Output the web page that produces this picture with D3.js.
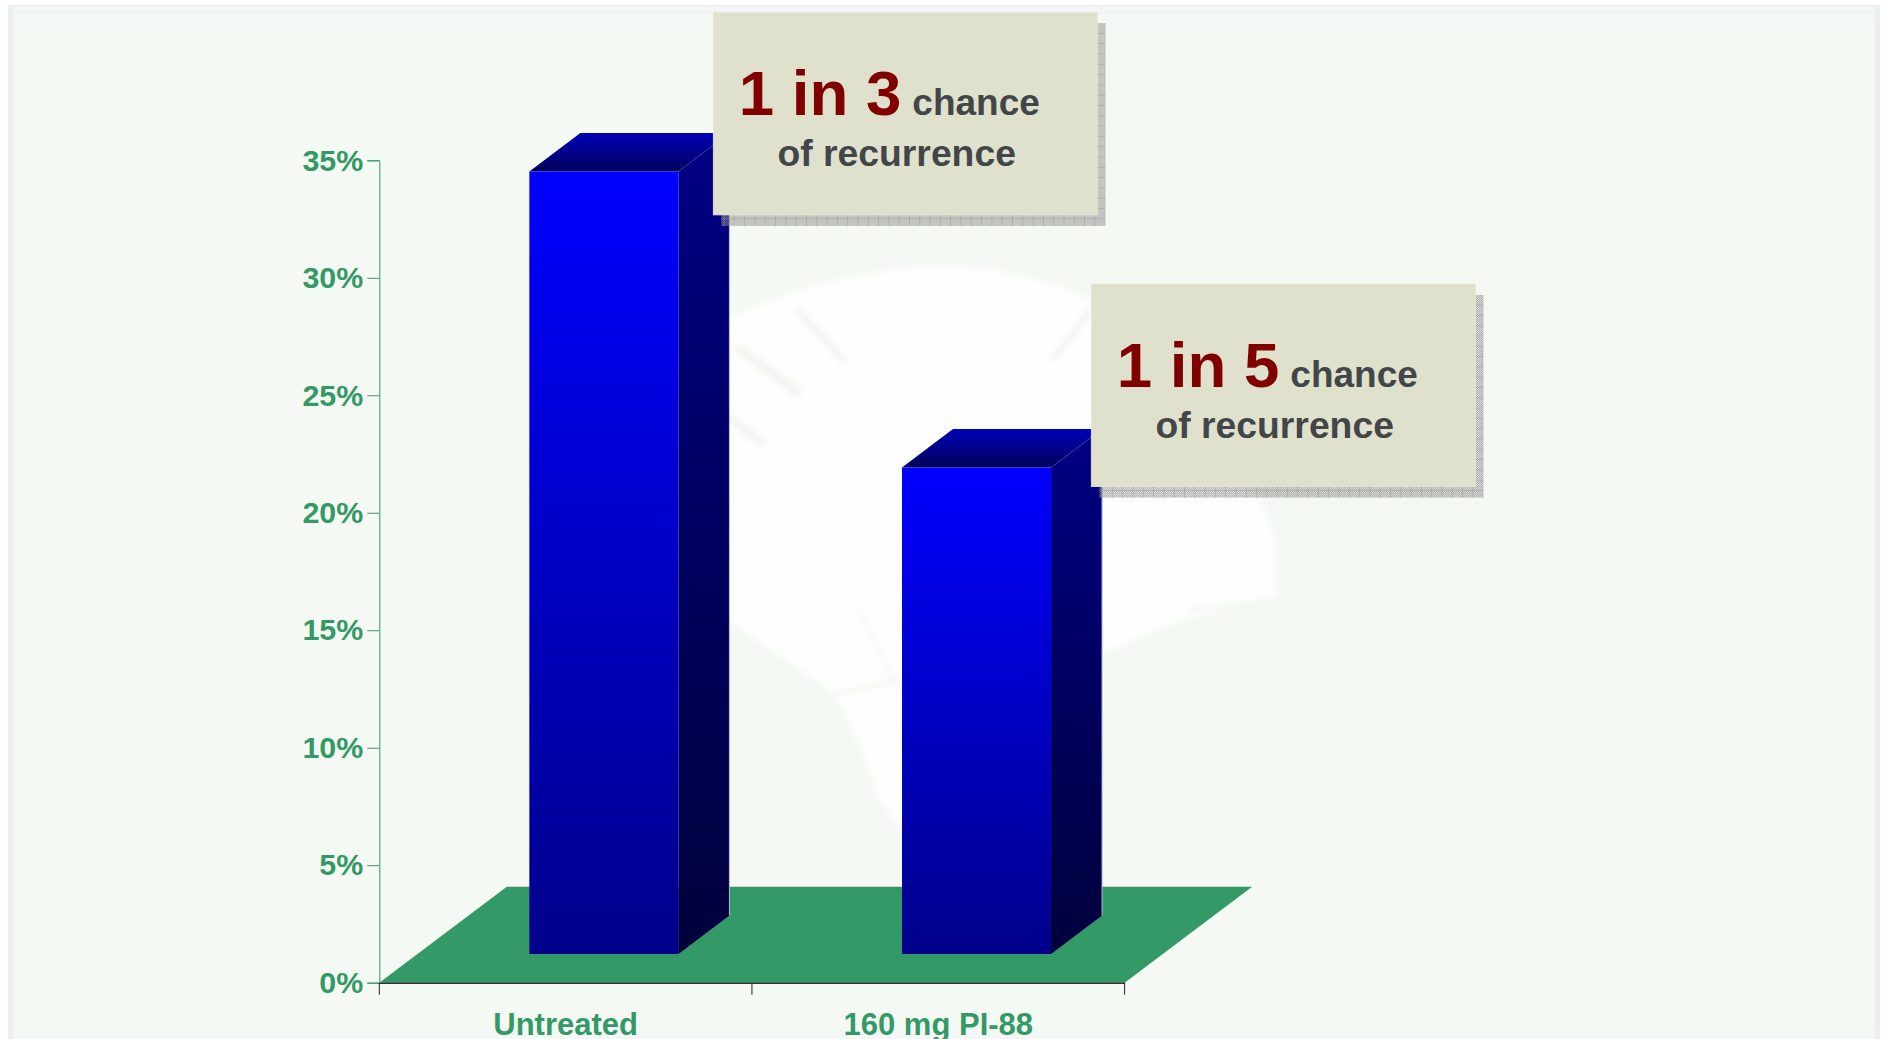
<!DOCTYPE html>
<html>
<head>
<meta charset="utf-8">
<script src="https://cdn.jsdelivr.net/npm/d3@7"></script>
<style>
  html, body { margin: 0; padding: 0; background: #fff; overflow: hidden; }
  svg { display: block; }
  text { font-family: "Liberation Sans", Arial, sans-serif; font-weight: bold; }
</style>
</head>
<body>
<script>
//data
var categories = ["Untreated", "160 mg PI-88"];
var recurrence = [33.3, 20.7];
var yTicks = [0, 5, 10, 15, 20, 25, 30, 35];
var calloutHeads = ["1 in 3", "1 in 5"];
var calloutTail = "chance";
var calloutLine2 = "of recurrence";

//layout
var width = 1885;
var height = 1039;
var axisLeft = 379.3;
var axisRight = 1124.6;
var axisTop = 160.3;
var axisBottom = 982.7;
var floorDepth = [127.5, -96];
var barFront = 0.3;   // share of the floor depth in front of a bar
var barBack = 0.7;
var calloutPos = [[713.3, 12.3], [1091.3, 284]];
var calloutSize = [384, 202.6];
var shadowOffset = [8, 11];
var green = "#339966";

var svg = d3.select("body").append("svg")
    .attr("width", width)
    .attr("height", height);
var defs = svg.append("defs");

function gradient(id, top, bottom) {
    var g = defs.append("linearGradient").attr("id", id)
        .attr("x1", 0).attr("y1", 0).attr("x2", 0).attr("y2", 1);
    g.append("stop").attr("offset", 0).attr("stop-color", top);
    g.append("stop").attr("offset", 1).attr("stop-color", bottom);
}
gradient("frontFace", "#0000ff", "#00008a");
gradient("sideFace", "#000084", "#00003c");
gradient("topFace", "#0000b8", "#000058");

//soft edge for the background clock
defs.append("filter").attr("id", "soft")
    .append("feGaussianBlur").attr("stdDeviation", 2.5);

//callout shadow: fine dots with a grid on top
var dots = defs.append("pattern").attr("id", "shadowDots")
    .attr("width", 2).attr("height", 2).attr("patternUnits", "userSpaceOnUse");
dots.append("rect").attr("width", 1).attr("height", 1).attr("fill", "#929292");
dots.append("rect").attr("x", 1).attr("y", 1).attr("width", 1).attr("height", 1).attr("fill", "#929292");
var grid = defs.append("pattern").attr("id", "shadowGrid")
    .attr("width", 10.3).attr("height", 10.3).attr("patternUnits", "userSpaceOnUse");
grid.append("path").attr("d", "M0 0H10.3M0 0V10.3")
    .attr("fill", "none").attr("stroke", "#999999").attr("stroke-width", 1);

//slide background and frame
svg.append("rect").attr("width", width).attr("height", height).attr("fill", "#ffffff");
svg.append("rect").attr("x", 8).attr("y", 5).attr("width", 1872).attr("height", 1034).attr("fill", "#ebf0ed");
svg.append("rect").attr("x", 13).attr("y", 7).attr("width", 1862).attr("height", 1032).attr("fill", "#f3f7f5");
svg.append("rect").attr("x", 13).attr("y", 12).attr("width", 1862).attr("height", 1).attr("fill", "#edf2ee");
svg.append("rect").attr("x", 15).attr("y", 18).attr("width", 1860).attr("height", 1011).attr("fill", "#f5f9f3");

//faint clock behind the chart
var clock = svg.append("g").attr("filter", "url(#soft)");
clock.append("path")
    .attr("d", "M700 335 Q800 275 934 266 Q1040 268 1110 310 L1261 501 L1276 543 L1276 600 Q1190 610 1108 652 L1000 700 L900 830 L880 800 Q860 740 835 694 L730 621 L700 600 Z")
    .attr("fill", "#fdfefd");
var clockMarks = [[737, 347, 800, 394, 9], [798, 311, 845, 362, 7], [730, 418, 765, 445, 9], [1053, 360, 1091, 310, 6], [860, 610, 898, 690, 2], [835, 694, 900, 680, 3], [1190, 610, 1276, 600, 3]];
clock.selectAll("line.mark").data(clockMarks).enter().append("line")
    .attr("class", "mark")
    .attr("x1", function(d) { return d[0]; }).attr("y1", function(d) { return d[1]; })
    .attr("x2", function(d) { return d[2]; }).attr("y2", function(d) { return d[3]; })
    .attr("stroke", "#f3f5f1")
    .attr("stroke-width", function(d) { return d[4]; });

//scales
var x = d3.scaleBand().domain(categories).range([axisLeft, axisRight]).padding(0.6);
x.paddingOuter(0.3);
var y = d3.scaleLinear().domain([0, 35]).range([axisBottom, axisTop]);

//floor
var floorPoints = [
    [axisLeft, y(0)],
    [axisRight, y(0)],
    [axisRight + floorDepth[0], y(0) + floorDepth[1]],
    [axisLeft + floorDepth[0], y(0) + floorDepth[1]]
];
svg.append("polygon").attr("points", floorPoints.join(" ")).attr("fill", green);

//y axis
var yAxis = svg.append("g")
    .attr("transform", "translate(" + axisLeft + ",0)")
    .call(d3.axisLeft(y).tickValues(yTicks).tickSize(12).tickPadding(4)
        .tickFormat(function(d) { return d + "%"; }));
yAxis.selectAll("path, line").attr("stroke", green);
yAxis.selectAll("text").attr("fill", green).style("font-size", "30.4px");

//x axis
var xAxis = svg.append("g")
    .attr("transform", "translate(0," + y(0) + ")")
    .call(d3.axisBottom(x).tickSize(0).tickPadding(30));
xAxis.select("path").attr("stroke", "#333333").attr("stroke-width", 1.5);
xAxis.selectAll("text").attr("fill", green).style("font-size", "31px");
xAxis.selectAll("line.boundary").data(d3.range(categories.length + 1)).enter().append("line")
    .attr("class", "boundary")
    .attr("x1", function(d) { return axisLeft + d * x.step(); })
    .attr("x2", function(d) { return axisLeft + d * x.step(); })
    .attr("y1", 0).attr("y2", 12)
    .attr("stroke", "#222222");

//bars, three faces each
var bars = svg.selectAll("g.bar").data(categories).enter().append("g").attr("class", "bar");

function pt(px, py, share) {
    return [px + floorDepth[0] * share, py + floorDepth[1] * share];
}
function front(d, i) {
    var l = x(d), r = l + x.bandwidth();
    return [pt(l, y(recurrence[i]), barFront), pt(r, y(recurrence[i]), barFront), pt(r, y(0), barFront), pt(l, y(0), barFront)];
}
function side(d, i) {
    var r = x(d) + x.bandwidth();
    return [pt(r, y(recurrence[i]), barFront), pt(r, y(recurrence[i]), barBack), pt(r, y(0), barBack), pt(r, y(0), barFront)];
}
function top_(d, i) {
    var l = x(d), r = l + x.bandwidth();
    return [pt(l, y(recurrence[i]), barFront), pt(l, y(recurrence[i]), barBack), pt(r, y(recurrence[i]), barBack), pt(r, y(recurrence[i]), barFront)];
}
bars.append("polygon").attr("points", function(d, i) { return side(d, i).join(" "); }).attr("fill", "url(#sideFace)");
bars.append("polygon").attr("points", function(d, i) { return top_(d, i).join(" "); }).attr("fill", "url(#topFace)");
bars.append("polygon").attr("points", function(d, i) { return front(d, i).join(" "); }).attr("fill", "url(#frontFace)");
//thin light edges of the 3d box
bars.append("path")
    .attr("d", function(d, i) { var s = side(d, i); return "M" + s[0] + "L" + s[1]; })
    .attr("stroke", "#3a3ab8").attr("stroke-width", 0.5).attr("fill", "none");
bars.append("path")
    .attr("d", function(d, i) { var s = side(d, i); return "M" + s[1] + "L" + s[2]; })
    .attr("stroke", "#b8bcdc").attr("stroke-width", 1).attr("fill", "none");

//callouts
var callouts = svg.selectAll("g.callout").data(calloutHeads).enter().append("g")
    .attr("class", "callout")
    .attr("transform", function(d, i) { return "translate(" + calloutPos[i] + ")"; });
["shadowDots", "shadowGrid"].forEach(function(id) {
    callouts.append("rect")
        .attr("x", shadowOffset[0]).attr("y", shadowOffset[1])
        .attr("width", calloutSize[0]).attr("height", calloutSize[1])
        .attr("fill", "url(#" + id + ")");
});
callouts.append("rect")
    .attr("width", calloutSize[0]).attr("height", calloutSize[1])
    .attr("fill", "#e0e1cc").attr("stroke", "#e8e9d8").attr("stroke-width", 0.8);
callouts.append("text")
    .attr("x", 25.5).attr("y", 103)
    .attr("fill", "#800000").style("font-size", "63.6px")
    .text(function(d) { return d; });
callouts.append("text")
    .attr("x", 199).attr("y", 103)
    .attr("fill", "#434649").style("font-size", "37px")
    .text(calloutTail);
callouts.append("text")
    .attr("x", 183.4).attr("y", 154)
    .attr("text-anchor", "middle")
    .attr("fill", "#434649").style("font-size", "37.3px")
    .text(calloutLine2);
</script>
</body>
</html>
